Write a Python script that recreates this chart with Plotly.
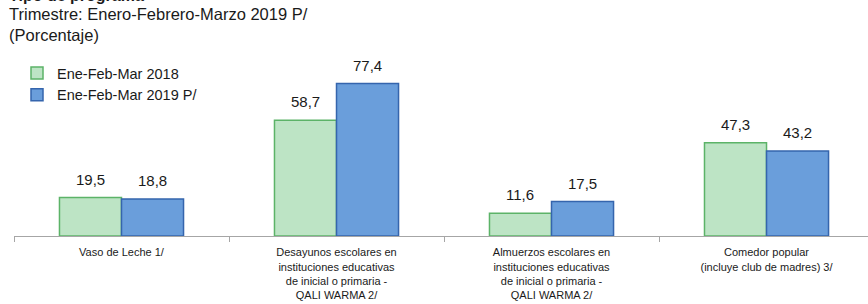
import plotly.graph_objects as go

# ---------------- data ----------------
categories = [
    "Vaso de Leche 1/",
    "Desayunos escolares en<br>instituciones educativas<br>de inicial o primaria -<br>QALI WARMA 2/",
    "Almuerzos escolares en<br>instituciones educativas<br>de inicial o primaria -<br>QALI WARMA 2/",
    "Comedor popular<br>(incluye club de madres) 3/",
]
series_names = ["Ene-Feb-Mar 2018", "Ene-Feb-Mar 2019 P/"]
values_2018 = [19.5, 58.7, 11.6, 47.3]
values_2019 = [18.8, 77.4, 17.5, 43.2]

title_cut = "Tipo de programa"
title_line1 = "Trimestre: Enero-Febrero-Marzo 2019 P/"
title_line2 = "(Porcentaje)"

# ---------------- style ----------------
W, H = 868, 304
ML, MR, MT, MB = 14, 0, 39, 68
FONT = "Liberation Sans, Arial, sans-serif"
TXT = "#1a1a1a"
fills = ["#bde4c5", "#6a9edb"]
borders = ["#5cb368", "#3565ad"]
BARGAP = 0.423
X_RANGE = [-0.5, 3.472]
Y_RANGE = [0, 100]

plot_w = W - ML - MR
plot_h = H - MT - MB
cat_px = plot_w / (X_RANGE[1] - X_RANGE[0])
bar_px = cat_px * (1 - BARGAP) / 2


def fmt(v):
    return f"{v:.1f}".replace(".", ",")


def py(pix):
    return (H - MB - pix) / plot_h


fig = go.Figure()
for name, vals, fc, bc in zip(series_names, [values_2018, values_2019], fills, borders):
    fig.add_trace(go.Bar(
        x=categories, y=vals, name=name,
        marker=dict(color=fc, line=dict(color=bc, width=1.5)),
        legendgroup=name,
        hoverinfo="skip",
    ))

annotations = []
for i, vals in enumerate([values_2018, values_2019]):
    sh = (-0.5 if i == 0 else 0.5) * bar_px
    for c, v in zip(categories, vals):
        annotations.append(dict(
            x=c, y=v, xref="x", yref="y", text=fmt(v), showarrow=False,
            xanchor="center", yanchor="bottom", xshift=sh, yshift=8,
            font=dict(family=FONT, size=15, color=TXT),
        ))

annotations.append(dict(
    x=0, xref="paper", xshift=7 - ML, y=py(6), yref="paper",
    text="<b>" + title_cut + "</b>", showarrow=False, xanchor="left", yanchor="bottom",
    font=dict(family=FONT, size=16, color=TXT),
))
annotations.append(dict(
    x=0, xref="paper", xshift=7 - ML, y=py(3), yref="paper",
    text=title_line1 + "<br>" + title_line2, showarrow=False, xanchor="left", yanchor="top",
    align="left", font=dict(family=FONT, size=16.5, color=TXT),
))

fig.update_layout(
    width=W, height=H, autosize=False,
    margin=dict(l=ML, r=MR, t=MT, b=MB, pad=0, autoexpand=False),
    paper_bgcolor="white", plot_bgcolor="white",
    barmode="group", bargap=BARGAP, bargroupgap=0,
    font=dict(family=FONT, color=TXT),
    showlegend=True,
    legend=dict(
        x=3 / plot_w, xref="paper", y=py(57), xanchor="left", yanchor="top",
        orientation="v", traceorder="normal", tracegroupgap=6,
        font=dict(family=FONT, size=14.5, color=TXT),
        bgcolor="rgba(0,0,0,0)", borderwidth=0,
    ),
    xaxis=dict(
        type="category", range=X_RANGE, automargin=False,
        showline=True, linecolor="#a6a6a6", linewidth=1,
        ticks="outside", tickson="boundaries", ticklen=5, tickcolor="#a6a6a6",
        tickfont=dict(family=FONT, size=11, color=TXT),
        ticklabelstandoff=6,
        showgrid=False, zeroline=False, fixedrange=True,
    ),
    yaxis=dict(
        range=Y_RANGE, visible=False, showgrid=False, zeroline=False,
        fixedrange=True, automargin=False,
    ),
    annotations=annotations,
)

fig.write_html(
    "out.html",
    config={"displayModeBar": False, "staticPlot": True},
    post_script="document.body.style.margin='0px';document.body.style.padding='0px';",
)
